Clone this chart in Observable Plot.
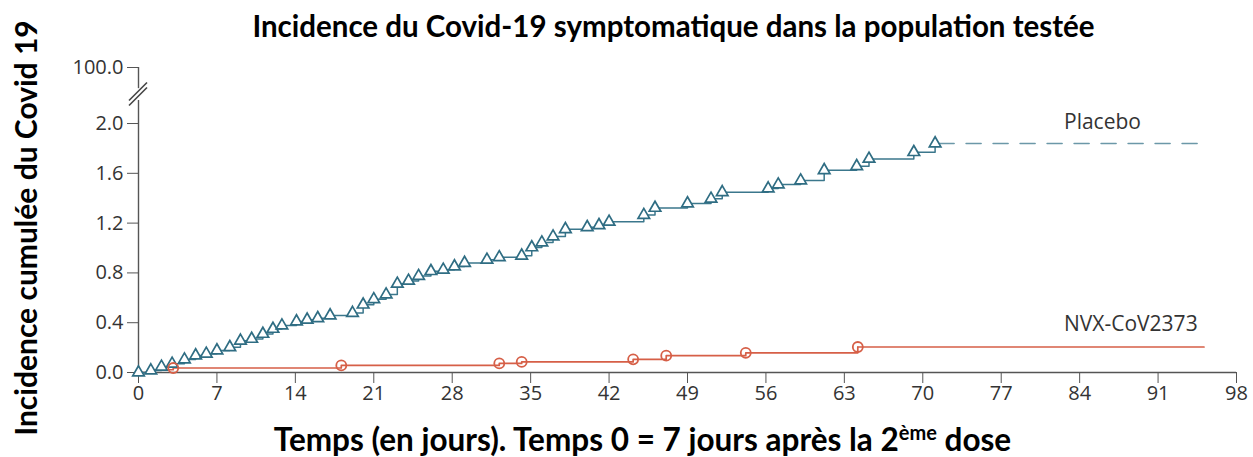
<!DOCTYPE html>
<html><head><meta charset="utf-8">
<script src="https://cdn.jsdelivr.net/npm/d3@7"></script>
<script src="https://cdn.jsdelivr.net/npm/@observablehq/plot@0.6"></script>
<style>body{margin:0;background:#fff;} #chart svg{display:block}</style>
</head><body><div id="chart"></div>
<script>
const title = "Incidence du Covid-19 symptomatique dans la population testée";
const yLabel = "Incidence cumulée du Covid 19";
const xLabelMain = "Temps (en jours). Temps 0 = 7 jours après la 2";
const xLabelSup = "ème";
const xLabelEnd = " dose";
const xTicks = [0, 7, 14, 21, 28, 35, 42, 49, 56, 63, 70, 77, 84, 91, 98];
const yTicks = [0, 0.4, 0.8, 1.2, 1.6, 2.0];
const yTopTickLabel = "100.0";
const seriesNames = ["Placebo", "NVX-CoV2373"];

const placeboDays = [0, 1.1, 2.05, 3.0, 4.1, 5.1, 6.05, 7.0, 8.15, 9.1, 10.1, 11.1, 12.0, 12.8, 14.1, 15.05, 16.0, 17.1, 19.1, 20.05, 21.0, 22.1, 23.1, 24.1, 25.0, 26.1, 27.2, 28.2, 29.1, 31.1, 32.2, 34.2, 35.1, 36.0, 37.0, 38.1, 40.05, 41.1, 42.0, 45.1, 46.1, 49.0, 51.1, 52.1, 56.2, 57.1, 59.1, 61.2, 64.1, 65.2, 69.2, 71.1];
const placeboValues = [0, 0.016, 0.046, 0.07, 0.104, 0.137, 0.15, 0.177, 0.203, 0.255, 0.27, 0.31, 0.35, 0.377, 0.41, 0.424, 0.436, 0.458, 0.478, 0.545, 0.588, 0.626, 0.712, 0.736, 0.775, 0.814, 0.825, 0.852, 0.88, 0.905, 0.925, 0.938, 1.005, 1.044, 1.092, 1.151, 1.167, 1.183, 1.21, 1.265, 1.322, 1.358, 1.395, 1.448, 1.478, 1.51, 1.542, 1.625, 1.657, 1.716, 1.77, 1.84];

const nvxDays = [0, 1.3, 3.1, 18.1, 32.2, 34.2, 44.15, 47.1, 54.2, 64.2];
const nvxValues = [0, 0.022, 0.036, 0.057, 0.073, 0.085, 0.106, 0.135, 0.158, 0.205];

const followUpEnd = 95.1;

const placebo = placeboDays.map((d, i) => ({day: d, v: placeboValues[i]}));
const nvx = nvxDays.map((d, i) => ({day: d, v: nvxValues[i]}));
const placeboTail = [placebo[placebo.length - 1], {day: followUpEnd, v: placebo[placebo.length - 1].v}];
const nvxTail = [nvx[nvx.length - 1], {day: followUpEnd, v: nvx[nvx.length - 1].v}];

const teal = "#2f6d83", tealLine = "#3b778c", tealDash = "#6b98a8", red = "#d65f47";
const axisColor = "#555";
const yTopPos = 2.45;        // scale position used for the 100.0 tick (broken axis)
const breakLo = 2.185, breakHi = 2.28;
const labelFont = "Lato, sans-serif";

function axisBreak(index, scales) {
  const x0 = scales.x(0);
  const g = d3.create("svg:g").attr("stroke", "#444").attr("stroke-width", 1.6).attr("fill", "none");
  [2.253, 2.213].forEach(v => {
    const yc = scales.y(v);
    g.append("line").attr("x1", x0 - 9).attr("y1", yc + 9).attr("x2", x0 + 9).attr("y2", yc - 9);
  });
  return g.node();
}

const chart = Plot.plot({
  width: 1253, height: 457,
  marginLeft: 138, marginRight: 17, marginTop: 67, marginBottom: 85,
  x: {domain: [0, 98], label: null},
  y: {domain: [0, yTopPos], label: null},
  style: {fontFamily: "'Open Sans', sans-serif", fontSize: "20px", color: "#333", background: "#fff", overflow: "visible"},
  marks: [
    Plot.axisX({ticks: xTicks, tickSize: 11, tickPadding: 2, tickFormat: d => String(d), stroke: axisColor, fontSize: 20, label: null}),
    Plot.axisY({ticks: [...yTicks, yTopPos], tickSize: 11, tickPadding: 4, tickFormat: d => d === yTopPos ? yTopTickLabel : d.toFixed(1), stroke: axisColor, fontSize: 20, label: null}),
    Plot.ruleY([0], {stroke: axisColor, strokeWidth: 1.4}),
    Plot.ruleX([0], {y1: 0, y2: breakLo, stroke: axisColor, strokeWidth: 1.4}),
    Plot.ruleX([0], {y1: breakHi, y2: yTopPos, stroke: axisColor, strokeWidth: 1.4}),
    axisBreak,
    Plot.line(nvx, {x: "day", y: "v", curve: "step-after", stroke: red, strokeWidth: 1.7}),
    Plot.line(nvxTail, {x: "day", y: "v", stroke: red, strokeWidth: 1.7}),
    Plot.line(placebo, {x: "day", y: "v", curve: "step-after", stroke: tealLine, strokeWidth: 1.5}),
    Plot.line(placeboTail, {x: "day", y: "v", stroke: tealDash, strokeWidth: 1.6, strokeDasharray: "15,12", strokeDashoffset: -4}),
    Plot.dot(placebo, {x: "day", y: "v", symbol: "triangle", r: 4.3, fill: "white", stroke: teal, strokeWidth: 1.7}),
    Plot.dot(nvx, {x: "day", y: "v", filter: d => d.day > 2, symbol: "circle", r: 5, fill: "white", fillOpacity: 0, stroke: red, strokeWidth: 1.8}),
    Plot.text([seriesNames[0]], {x: () => followUpEnd, y: () => placeboTail[1].v, textAnchor: "start", dx: -140, dy: -21, fontSize: 21, fill: "#333"}),
    Plot.text([seriesNames[1]], {x: () => followUpEnd, y: () => nvxTail[1].v, textAnchor: "start", dx: -140, dy: -23, fontSize: 21, fill: "#333"}),
    Plot.text([title], {frameAnchor: "top", lineAnchor: "middle", textAnchor: "middle", dx: -14, dy: -40, fontSize: 29.5, fontWeight: "bold", fontFamily: labelFont, fill: "#000"}),
    Plot.text([yLabel], {frameAnchor: "left", lineAnchor: "middle", textAnchor: "middle", rotate: -90, dx: -111, dy: 8, fontSize: 30, fontWeight: "bold", fontFamily: labelFont, fill: "#000"}),
    Plot.text([xLabelMain], {frameAnchor: "bottom", lineAnchor: "middle", textAnchor: "middle", dx: -45, dy: 68, fontSize: 31.5, fontWeight: "bold", fontFamily: labelFont, fill: "#000", className: "xlab"})
  ]
});
document.getElementById("chart").appendChild(chart);

// superscript for "2ème"
d3.select(chart).selectAll(".xlab text").each(function() {
  const t = d3.select(this);
  t.text(null);
  t.append("tspan").text(xLabelMain);
  t.append("tspan").attr("dy", -11).attr("font-size", 20).text(xLabelSup);
  t.append("tspan").attr("dy", 11).text(xLabelEnd);
});
</script>
</body></html>
